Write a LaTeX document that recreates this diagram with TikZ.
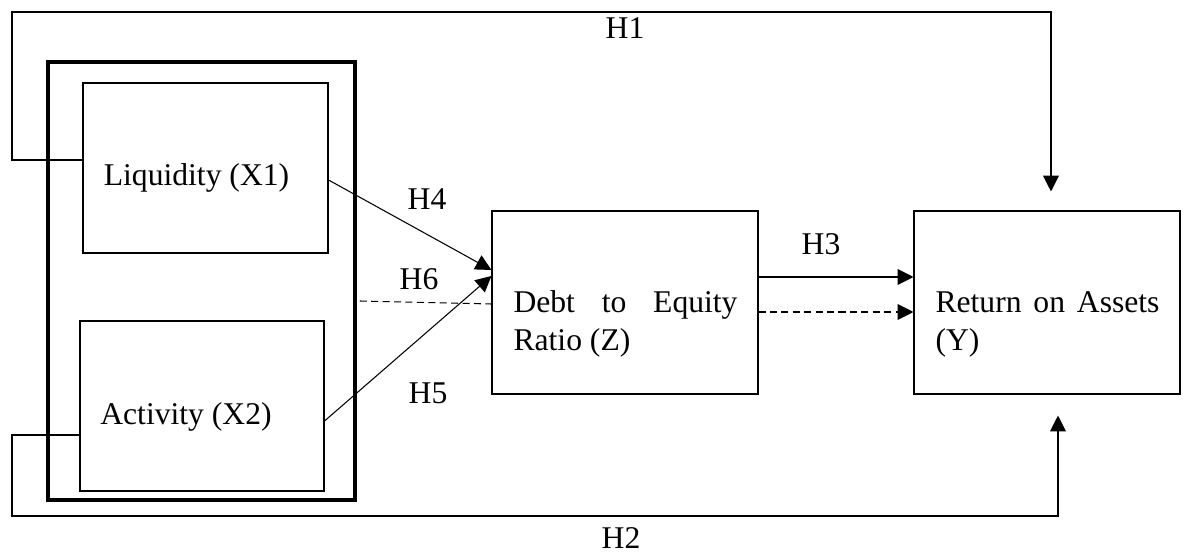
\documentclass[tikz,border=0pt]{standalone}
\usepackage{fontspec}
\setmainfont{Liberation Serif}
\usetikzlibrary{arrows.meta}
\begin{document}
\begin{tikzpicture}[font=\fontsize{18}{21.6}\selectfont,line width=0.6pt,
  box/.style 2 args={draw,minimum width=#1,minimum height=#2,inner sep=0pt},
  hyp/.style={-{Triangle[length=9pt,width=9pt]}},
  hypdash/.style={dash pattern=on 4pt off 2.5pt}]
\useasboundingbox (0,0) rectangle (23.660000,-11.060000);
\node [draw,line width=2pt,minimum width=6.14cm,minimum height=8.76cm,inner sep=0pt] (grp) at (4.030000,-5.620000) {};
\node [box={4.90cm}{3.40cm}] (x1) at (4.110000,-3.360000) {};
\node [box={4.88cm}{3.40cm}] (x2) at (4.040000,-8.120000) {};
\node [box={5.32cm}{3.66cm}] (z) at (12.500000,-6.050000) {};
\node [box={5.32cm}{3.66cm}] (y) at (20.940000,-6.050000) {};
\node [anchor=base] (x1txt) at (3.930000,-3.720000) {Liquidity (X1)};
\node [anchor=base] (x2txt) at (3.720000,-8.480000) {Activity (X2)};
\node [anchor=base west,text width=4.48cm,align=justify,inner sep=0pt] (ztxt) at (10.260000,-6.260000) {Debt to Equity Ratio (Z)};
\node [anchor=base west,text width=4.48cm,align=justify,inner sep=0pt] (ytxt) at (18.700000,-6.260000) {Return on Assets (Y)};
\coordinate (h1end) at ([xshift=0.08cm,yshift=0.38cm]y.north);
\coordinate (h2end) at ([xshift=0.22cm,yshift=-0.42cm]y.south);
\draw [hyp] ([yshift=0.16cm]x1.west) -| (0.240000,-0.240000) -| (h1end);
\draw [hyp] ([yshift=-0.58cm]x2.west) -| (0.240000,-10.320000) -| (h2end);
\draw [hyp] ([yshift=-0.24cm]x1.east) -- ([yshift=0.65cm]z.west);
\draw [hyp] ([yshift=-0.30cm]x2.east) -- ([yshift=0.53cm]z.west);
\draw [hypdash] ([xshift=0.06cm,yshift=-0.40cm]grp.east) -- ([yshift=-0.03cm]z.west);
\draw [hyp] ([yshift=0.51cm]z.east) -- ([yshift=0.51cm]y.west);
\draw [hyp,hypdash] ([yshift=-0.19cm]z.east) -- ([yshift=-0.19cm]y.west);
\node (h1) at (12.500000,-0.560000) {H1};
\node [inner sep=1pt] (h2) at (12.420000,-10.760000) {H2};
\node (h3) at (16.420000,-4.880000) {H3};
\node (h4) at (8.540000,-3.980000) {H4};
\node (h5) at (8.560000,-7.860000) {H5};
\node (h6) at (8.380000,-5.580000) {H6};
\end{tikzpicture}
\end{document}
